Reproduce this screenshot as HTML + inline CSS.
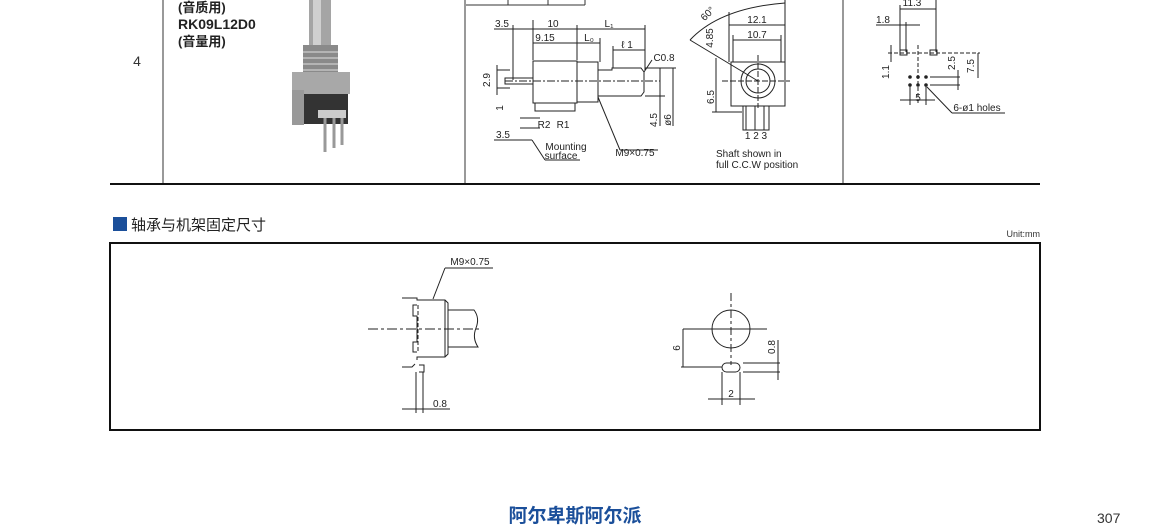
<!DOCTYPE html>
<html><head><meta charset="utf-8"><style>
html,body{margin:0;padding:0;background:#fff;}
svg{display:block;font-family:"Liberation Sans","Noto Sans CJK SC",sans-serif;}
</style></head><body>
<svg width="1150" height="529" viewBox="0 0 1150 529" xmlns="http://www.w3.org/2000/svg">
<g stroke="#333" fill="none" stroke-width="1">
<line x1="163" y1="0" x2="163" y2="184"/>
<line x1="465" y1="0" x2="465" y2="184"/>
<line x1="843" y1="0" x2="843" y2="184"/>
<line x1="466" y1="5" x2="585" y2="5"/>
<line x1="508" y1="0" x2="508" y2="5"/><line x1="548" y1="0" x2="548" y2="5"/><line x1="585" y1="0" x2="585" y2="5"/>
</g>
<line x1="110" y1="184" x2="1040" y2="184" stroke="#111" stroke-width="2"/>
<text x="137" y="66" font-size="14" fill="#333" text-anchor="middle">4</text>
<text x="178" y="12" font-size="13" font-weight="bold" fill="#222">(音质用)</text>
<text x="178" y="29" font-size="14" font-weight="bold" fill="#222">RK09L12D0</text>
<text x="178" y="46" font-size="13" font-weight="bold" fill="#222">(音量用)</text>
<!-- photo -->
<rect x="309" y="0" width="22" height="48" fill="#a5a5a5"/>
<rect x="313" y="0" width="8" height="48" fill="#d0d0d0"/>
<rect x="303" y="45" width="35" height="30" fill="#8a8a8a"/>
<g stroke="#ddd"><line x1="303" y1="52" x2="338" y2="52"/><line x1="303" y1="58" x2="338" y2="58"/><line x1="303" y1="64" x2="338" y2="64"/><line x1="303" y1="70" x2="338" y2="70"/></g>
<rect x="292" y="72" width="58" height="22" fill="#a8a8a8"/>
<rect x="292" y="90" width="12" height="35" fill="#999"/>
<rect x="304" y="94" width="44" height="30" fill="#333"/>
<rect x="318" y="110" width="28" height="8" fill="#ccc"/>
<g stroke="#999" stroke-width="3"><line x1="325" y1="118" x2="325" y2="152"/><line x1="334" y1="118" x2="334" y2="148"/><line x1="342" y1="118" x2="342" y2="145"/></g>
<!-- side view -->
<g stroke="#222" fill="none" stroke-width="1">
<line x1="494" y1="29" x2="645" y2="29"/><line x1="533" y1="43" x2="600" y2="43"/><line x1="613" y1="50" x2="645" y2="50"/>
<line x1="533" y1="20" x2="533" y2="60"/><line x1="577" y1="25" x2="577" y2="60"/><line x1="645" y1="25" x2="645" y2="70"/><line x1="600" y1="38" x2="600" y2="62"/><line x1="613" y1="46" x2="613" y2="68"/><line x1="513" y1="25" x2="513" y2="80"/>
<rect x="533" y="61" width="44" height="42"/>
<rect x="577" y="62" width="21" height="40"/>
<polyline points="598,70 612,70 612,68 641,68 644,72 644,92 641,96 598,96"/>
<rect x="505" y="78" width="28" height="6"/>
<line x1="505" y1="81" x2="660" y2="81" stroke-dasharray="8,2,2,2"/>
<path d="M535,103 v8 h40 v-8 M540,118 h-20 M540,128 h-20"/>
<line x1="497" y1="70" x2="510" y2="70"/><line x1="497" y1="88" x2="510" y2="88"/><line x1="497" y1="65" x2="497" y2="95"/>
<line x1="598" y1="97" x2="620" y2="150"/><line x1="620" y1="150" x2="658" y2="150"/>
<line x1="644" y1="72" x2="652" y2="60"/>
<line x1="660" y1="68" x2="660" y2="126"/><line x1="673" y1="68" x2="673" y2="126"/><line x1="645" y1="96" x2="665" y2="96"/><line x1="645" y1="68" x2="676" y2="68"/>
<line x1="532" y1="140" x2="545" y2="160"/><line x1="545" y1="160" x2="580" y2="160"/>
<line x1="494" y1="140" x2="532" y2="140"/>
<!-- front view -->
<rect x="731" y="62" width="54" height="44"/>
<circle cx="758" cy="81" r="17"/><circle cx="758" cy="81" r="12"/>
<rect x="743" y="106" width="26" height="24"/>
<line x1="746" y1="106" x2="746" y2="130"/><line x1="755" y1="106" x2="755" y2="130"/><line x1="764" y1="106" x2="764" y2="130"/>
<line x1="722" y1="81" x2="790" y2="81" stroke-dasharray="6,2"/><line x1="758" y1="55" x2="758" y2="108" stroke-dasharray="6,2"/>
<line x1="729" y1="25" x2="785" y2="25"/><line x1="733" y1="40" x2="781" y2="40"/>
<line x1="729" y1="12" x2="729" y2="62"/><line x1="785" y1="0" x2="785" y2="62"/><line x1="733" y1="35" x2="733" y2="62"/><line x1="781" y1="35" x2="781" y2="62"/>
<path d="M690,40 Q720,8 785,3"/><line x1="690" y1="40" x2="758" y2="81"/>
<line x1="716" y1="58" x2="716" y2="112"/><line x1="712" y1="112" x2="742" y2="112"/>
<!-- pcb -->
<line x1="900" y1="9" x2="936" y2="9"/><line x1="900" y1="5" x2="900" y2="52"/><line x1="936" y1="0" x2="936" y2="52"/>
<line x1="876" y1="25" x2="920" y2="25"/><line x1="906" y1="22" x2="906" y2="52"/>
<rect x="900" y="50" width="7" height="5"/><rect x="930" y="50" width="7" height="5"/>
<line x1="888" y1="53" x2="980" y2="53" stroke-dasharray="4,2"/>
<line x1="918" y1="45" x2="918" y2="105" stroke-dasharray="4,2"/>
<line x1="930" y1="77" x2="960" y2="77"/><line x1="930" y1="85" x2="960" y2="85"/><line x1="958" y1="70" x2="958" y2="90"/><line x1="978" y1="53" x2="978" y2="78"/>
<line x1="900" y1="100" x2="935" y2="100"/><line x1="910" y1="85" x2="910" y2="105"/><line x1="926" y1="85" x2="926" y2="105"/>
<line x1="927" y1="87" x2="952" y2="113"/><line x1="952" y1="113" x2="1005" y2="113"/>
<line x1="891" y1="45" x2="891" y2="62"/>
</g>
<g fill="#222"><circle cx="910" cy="77" r="1.8"/><circle cx="918" cy="77" r="1.8"/><circle cx="926" cy="77" r="1.8"/><circle cx="910" cy="85" r="1.8"/><circle cx="918" cy="85" r="1.8"/><circle cx="926" cy="85" r="1.8"/></g>
<g font-size="10" fill="#222" text-anchor="middle">
<text x="502" y="27">3.5</text><text x="553" y="27">10</text><text x="609" y="27">L₁</text>
<text x="545" y="41">9.15</text><text x="589" y="41">L₀</text><text x="627" y="48">ℓ 1</text>
<text x="664" y="61">C0.8</text>
<text x="544" y="128">R2</text><text x="563" y="128">R1</text>
<text x="503" y="138">3.5</text>
<text x="566" y="150">Mounting</text><text x="561" y="159">surface</text>
<text x="635" y="156">M9×0.75</text>
<text x="757" y="23">12.1</text><text x="757" y="38">10.7</text>
<text x="756" y="139">1 2 3</text>
<text x="716" y="157" text-anchor="start">Shaft shown in</text>
<text x="716" y="168" text-anchor="start">full C.C.W position</text>
<text x="912" y="6">11.3</text><text x="883" y="23">1.8</text><text x="918" y="101">5</text>
<text x="977" y="111">6-ø1 holes</text>
<text transform="translate(490,80) rotate(-90)">2.9</text>
<text transform="translate(503,108) rotate(-90)">1</text>
<text transform="translate(657,120) rotate(-90)">4.5</text>
<text transform="translate(671,120) rotate(-90)">ø6</text>
<text transform="translate(713,38) rotate(-90)">4.85</text>
<text transform="translate(714,97) rotate(-90)">6.5</text>
<text transform="translate(710,16) rotate(-45)">60°</text>
<text transform="translate(955,63) rotate(-90)">2.5</text>
<text transform="translate(974,66) rotate(-90)">7.5</text>
<text transform="translate(889,72) rotate(-90)">1.1</text>
</g>
<!-- section -->
<rect x="113" y="217" width="14" height="14" fill="#1b4f9a"/>
<text x="131" y="230" font-size="15" fill="#222">轴承与机架固定尺寸</text>
<text x="1040" y="237" font-size="9" fill="#333" text-anchor="end">Unit:mm</text>
<rect x="110" y="243" width="930" height="187" fill="none" stroke="#111" stroke-width="2"/>
<g stroke="#222" fill="none" stroke-width="1">
<line x1="445" y1="268" x2="493" y2="268"/><line x1="445" y1="268" x2="433" y2="299"/>
<polyline points="402,298 417,298 417,300 445,300 448,303 448,354 445,357 417,357 417,360"/>
<polyline points="417,305 413,305 413,316 417,316 417,342 413,342 413,352 417,352"/>
<line x1="445" y1="300" x2="445" y2="357"/>
<path d="M448,310 H474 Q480,318 476,328 Q472,338 478,347 H448"/>
<line x1="368" y1="329" x2="480" y2="329" stroke-dasharray="10,3,3,3"/>
<line x1="418" y1="305" x2="418" y2="352" stroke-dasharray="4,2"/>
<path d="M402,367 H412 L415,364 M419,365 H424 V372 H419"/>
<line x1="416" y1="372" x2="416" y2="413"/><line x1="423" y1="372" x2="423" y2="413"/>
<line x1="402" y1="409" x2="450" y2="409"/>
<circle cx="731" cy="329" r="19"/>
<line x1="731" y1="293" x2="731" y2="365" stroke-dasharray="8,3,3,3"/>
<line x1="683" y1="329" x2="767" y2="329"/>
<line x1="681" y1="367" x2="722" y2="367"/>
<line x1="683" y1="329" x2="683" y2="367"/>
<rect x="722" y="363" width="18" height="9" rx="4.5"/>
<line x1="743" y1="363" x2="780" y2="363"/><line x1="743" y1="372" x2="780" y2="372"/>
<line x1="778" y1="340" x2="778" y2="380"/>
<line x1="722" y1="372" x2="722" y2="405"/><line x1="740" y1="372" x2="740" y2="405"/>
<line x1="708" y1="399" x2="755" y2="399"/>
</g>
<g font-size="10" fill="#222" text-anchor="middle">
<text x="470" y="265">M9×0.75</text>
<text x="440" y="407">0.8</text>
<text x="731" y="397">2</text>
<text transform="translate(680,348) rotate(-90)">6</text>
<text transform="translate(775,347) rotate(-90)">0.8</text>
</g>
<text x="575" y="522" font-size="19" font-weight="bold" fill="#1b4f9a" text-anchor="middle">阿尔卑斯阿尔派</text>
<text x="1097" y="523" font-size="14" fill="#333">307</text>
</svg>
</body></html>
